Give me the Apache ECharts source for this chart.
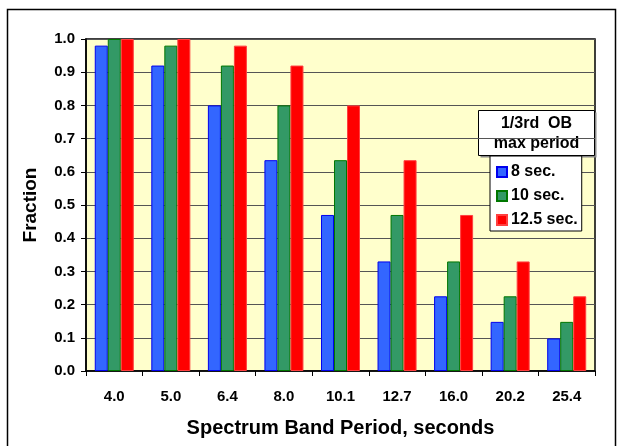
<!DOCTYPE html>
<html>
<head>
<meta charset="utf-8">
<script src="https://cdn.jsdelivr.net/npm/echarts@6/dist/echarts.min.js"></script>
<style>
  html, body { margin: 0; padding: 0; background: #fff; }
  #chart { width: 620px; height: 446px; }
</style>
</head>
<body>
<div id="chart"></div>
<script>
const categories = ['4.0', '5.0', '6.4', '8.0', '10.1', '12.7', '16.0', '20.2', '25.4'];
const sec8 = [0.98, 0.92, 0.80, 0.635, 0.47, 0.33, 0.225, 0.148, 0.098];
const sec10 = [1.0, 0.98, 0.92, 0.80, 0.635, 0.47, 0.33, 0.225, 0.148];
const sec125 = [1.0, 1.0, 0.98, 0.92, 0.80, 0.635, 0.47, 0.33, 0.225];
const seriesNames = ['8 sec.', '10 sec.', '12.5 sec.'];

const font = 'Liberation Sans, Arial, sans-serif';
const chart = echarts.init(document.getElementById('chart'));

const option = {
    animation: false,
    backgroundColor: '#fff',
    textStyle: { fontFamily: font },
    grid: { left: 86, right: 25, top: 39, bottom: 75, show: true, backgroundColor: '#FFFFCC', borderColor: '#000', borderWidth: 1.5 },
    xAxis: {
        type: 'category',
        data: categories,
        name: 'Spectrum Band Period, seconds',
        nameLocation: 'middle',
        nameGap: 47,
        nameTextStyle: { fontSize: 20, fontWeight: 'bold', color: '#000', fontFamily: font },
        axisLine: { lineStyle: { color: '#000', width: 1.5 } },
        axisTick: { show: true, length: 5, lineStyle: { color: '#000' } },
        axisLabel: { fontSize: 15, fontWeight: 'bold', color: '#000', margin: 18, fontFamily: font }
    },
    yAxis: {
        type: 'value',
        min: 0,
        max: 1,
        interval: 0.1,
        name: 'Fraction',
        nameLocation: 'middle',
        nameGap: 46,
        nameTextStyle: { fontSize: 19, fontWeight: 'bold', color: '#000', fontFamily: font },
        axisLine: { show: true, lineStyle: { color: '#000', width: 1.5 } },
        axisTick: { show: true, length: 5, lineStyle: { color: '#000' } },
        axisLabel: { fontSize: 15, fontWeight: 'bold', color: '#000', margin: 11, fontFamily: font, formatter: v => v.toFixed(1) },
        splitLine: { lineStyle: { color: '#555', width: 1 } }
    },
    legend: {
        orient: 'vertical',
        left: 490,
        top: 156,
        width: 93,
        icon: 'rect',
        itemWidth: 10,
        itemHeight: 10,
        itemGap: 8,
        padding: [8, 4, 3, 6],
        backgroundColor: '#fff',
        borderColor: '#000',
        borderWidth: 1,
        textStyle: { fontSize: 16, fontWeight: 'bold', color: '#000', fontFamily: font, padding: [0, 0, 0, -1] },
        data: seriesNames
    },
    graphic: [{
        type: 'group',
        left: 478,
        top: 110,
        children: [
            { type: 'rect', shape: { x: 2, y: 2, width: 116, height: 45 }, style: { fill: '#888' } },
            { type: 'rect', shape: { x: 0, y: 0, width: 116, height: 45 }, style: { fill: '#fff', stroke: '#000', lineWidth: 1 } },
            { type: 'text', x: 58, y: 23, style: { text: '1/3rd  OB\nmax period', align: 'center', verticalAlign: 'middle', font: 'bold 16px ' + font, fill: '#000', lineHeight: 20 } }
        ]
    }, {
        type: 'rect',
        left: 5,
        top: 7,
        shape: { width: 608, height: 440 },
        style: { fill: 'none', stroke: '#000', lineWidth: 1.5 },
        z: -1
    }],
    series: [
        { name: seriesNames[0], type: 'bar', data: sec8, barGap: '0%', barCategoryGap: '31%',
          itemStyle: { color: '#3366FF', borderColor: '#0000EE', borderWidth: 1 } },
        { name: seriesNames[1], type: 'bar', data: sec10, barGap: '0%', barCategoryGap: '31%',
          itemStyle: { color: '#339966', borderColor: '#007700', borderWidth: 1 } },
        { name: seriesNames[2], type: 'bar', data: sec125, barGap: '0%', barCategoryGap: '31%',
          itemStyle: { color: '#FF0000', borderColor: '#FF4040', borderWidth: 1 } }
    ]
};

chart.setOption(option);
</script>
</body>
</html>
